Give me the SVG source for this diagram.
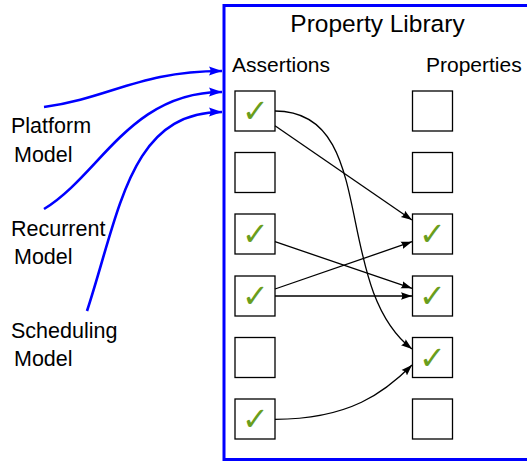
<svg xmlns="http://www.w3.org/2000/svg" width="527" height="461" viewBox="0 0 527 461">
  <style>
    .lbl { font-family: "Liberation Sans", Arial, sans-serif; font-size: 21.5px; fill: #000; }
    .head { font-family: "Liberation Sans", Arial, sans-serif; font-size: 21px; fill: #000; }
    .title { font-family: "Liberation Sans", Arial, sans-serif; font-size: 24.5px; fill: #000; text-anchor: middle; }
    .box { fill: #fff; stroke: #000; stroke-width: 1.3; }
    .chk { font-family: "DejaVu Sans", sans-serif; font-weight: 200; font-size: 32px; fill: #6a9e1c; text-anchor: middle; }
    .feed { fill: none; stroke: #0000ff; stroke-width: 2.6; marker-end: url(#blueHead); }
    .link { fill: none; stroke: #000; stroke-width: 1.3; marker-end: url(#blackHead); }
  </style>
  <defs>
    <marker id="blueHead" markerUnits="userSpaceOnUse" markerWidth="14" markerHeight="12" viewBox="0 0 14 12" refX="13" refY="6" orient="auto">
      <path d="M0,1.5 L13,6 L0,10.5 Q3,6 0,1.5 Z" fill="#0000ff"/>
    </marker>
    <marker id="blackHead" markerUnits="userSpaceOnUse" markerWidth="12" markerHeight="10" viewBox="0 0 12 10" refX="11" refY="5" orient="auto">
      <path d="M0,1.2 L11,5 L0,8.8 Q2.5,5 0,1.2 Z" fill="#000"/>
    </marker>
  </defs>

  <rect width="527" height="461" fill="#fff"/>

  <!-- library frame, open past the right edge -->
  <g id="library">
    <rect x="224" y="5.5" width="320" height="454" fill="none" stroke="#0000ff" stroke-width="3"/>
    <text class="title" x="377.5" y="32">Property Library</text>
    <text class="head" x="232" y="72">Assertions</text>
    <text class="head" x="426" y="72">Properties</text>
  </g>

  <!-- model sources -->
  <g id="platform-model">
    <text class="lbl" x="11" y="133">Platform</text>
    <text class="lbl" x="14" y="162">Model</text>
  </g>
  <g id="recurrent-model">
    <text class="lbl" x="11" y="236">Recurrent</text>
    <text class="lbl" x="14" y="264">Model</text>
  </g>
  <g id="scheduling-model">
    <text class="lbl" x="11" y="338">Scheduling</text>
    <text class="lbl" x="14" y="366">Model</text>
  </g>

  <!-- assertion column -->
  <g id="assertion-1"><rect class="box" x="235" y="91" width="40" height="40"/><text class="chk" x="255" y="122">✓</text></g>
  <g id="assertion-2"><rect class="box" x="235" y="152.5" width="40" height="40"/></g>
  <g id="assertion-3"><rect class="box" x="235" y="214" width="40" height="40"/><text class="chk" x="255" y="245">✓</text></g>
  <g id="assertion-4"><rect class="box" x="235" y="276" width="40" height="40"/><text class="chk" x="255" y="307">✓</text></g>
  <g id="assertion-5"><rect class="box" x="235" y="337.5" width="40" height="40"/></g>
  <g id="assertion-6"><rect class="box" x="235" y="399" width="40" height="40"/><text class="chk" x="255" y="430">✓</text></g>

  <!-- property column -->
  <g id="property-1"><rect class="box" x="412.5" y="91" width="40" height="40"/></g>
  <g id="property-2"><rect class="box" x="412.5" y="152.5" width="40" height="40"/></g>
  <g id="property-3"><rect class="box" x="412.5" y="214" width="40" height="40"/><text class="chk" x="432.5" y="245">✓</text></g>
  <g id="property-4"><rect class="box" x="412.5" y="276" width="40" height="40"/><text class="chk" x="432.5" y="307">✓</text></g>
  <g id="property-5"><rect class="box" x="412.5" y="337.5" width="40" height="40"/><text class="chk" x="432.5" y="368.5">✓</text></g>
  <g id="property-6"><rect class="box" x="412.5" y="399" width="40" height="40"/></g>

  <!-- connectors -->
  <g id="connectors">
    <path class="feed" d="M44,107 C110,98 140,71 222,71"/>
    <path class="feed" d="M44,209 C100,175 130,92 222,92"/>
    <path class="feed" d="M87,311 C120,210 130,112 222,112"/>

    <path class="link" d="M275,111 C380,111 330,285 412,349"/>
    <path class="link" d="M275,125.7 L412,220"/>
    <path class="link" d="M275,241.7 L412,288.3"/>
    <path class="link" d="M275,289 L412,241.7"/>
    <path class="link" d="M275,296 L412,296"/>
    <path class="link" d="M275,419.3 C350,419.3 385,392 412,365"/>
  </g>
</svg>
